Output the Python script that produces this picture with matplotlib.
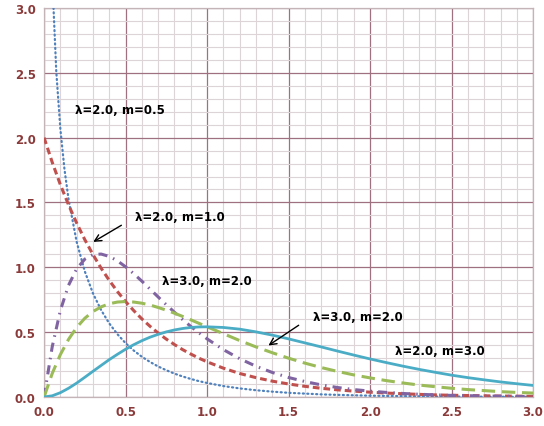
import matplotlib
matplotlib.use("Agg")
import matplotlib.pyplot as plt
from matplotlib.ticker import MultipleLocator

x = [0, 0.05, 0.1, 0.15, 0.2, 0.25, 0.3, 0.35, 0.4, 0.45, 0.5, 0.55, 0.6, 0.65,
     0.7, 0.75, 0.8, 0.85, 0.9, 0.95, 1.0, 1.1, 1.2, 1.3, 1.4, 1.5, 1.6, 1.7, 1.8,
     1.9, 2.0, 2.1, 2.2, 2.3, 2.4, 2.5, 2.6, 2.7, 2.8, 2.9, 3.0]

x_m05 = [0.05, 0.075, 0.1, 0.125, 0.15, 0.2, 0.25, 0.3, 0.35, 0.4, 0.45, 0.5, 0.55,
         0.6, 0.65, 0.7, 0.75, 0.8, 0.85, 0.9, 0.95, 1.0, 1.1, 1.2, 1.3, 1.4, 1.5,
         1.6, 1.7, 1.8, 1.9, 2.0, 2.1, 2.2, 2.3, 2.4, 2.5, 2.6, 2.7, 2.8, 2.9, 3.0]
y_l2_m05 = [3.229, 2.508, 2.066, 1.758, 1.526, 1.196, 0.968, 0.799, 0.670, 0.567,
            0.484, 0.415, 0.358, 0.310, 0.270, 0.235, 0.206, 0.180, 0.158, 0.139,
            0.122, 0.108, 0.084, 0.066, 0.052, 0.041, 0.032, 0.026, 0.020, 0.016,
            0.013, 0.010, 0.008, 0.007, 0.005, 0.004, 0.003, 0.003, 0.002, 0.002,
            0.001, 0.001]

y_l2_m1 = [2.000, 1.810, 1.637, 1.482, 1.341, 1.213, 1.098, 0.993, 0.899, 0.813,
           0.736, 0.666, 0.602, 0.545, 0.493, 0.446, 0.404, 0.365, 0.331, 0.299,
           0.271, 0.222, 0.181, 0.149, 0.122, 0.100, 0.082, 0.067, 0.055, 0.045,
           0.037, 0.030, 0.025, 0.020, 0.016, 0.013, 0.011, 0.009, 0.007, 0.006,
           0.005]

y_l3_m2 = [0.000, 0.387, 0.667, 0.861, 0.988, 1.063, 1.098, 1.102, 1.084, 1.050,
           1.004, 0.951, 0.893, 0.832, 0.771, 0.711, 0.653, 0.597, 0.544, 0.495,
           0.448, 0.365, 0.295, 0.237, 0.189, 0.150, 0.119, 0.093, 0.073, 0.057,
           0.045, 0.035, 0.027, 0.021, 0.016, 0.012, 0.010, 0.007, 0.006, 0.004,
           0.003]

y_l2_m2 = [0.000, 0.181, 0.327, 0.444, 0.536, 0.607, 0.659, 0.695, 0.719, 0.732,
           0.736, 0.732, 0.723, 0.709, 0.690, 0.669, 0.646, 0.621, 0.595, 0.568,
           0.541, 0.488, 0.435, 0.386, 0.341, 0.299, 0.261, 0.227, 0.197, 0.170,
           0.147, 0.126, 0.108, 0.092, 0.079, 0.067, 0.057, 0.049, 0.041, 0.035,
           0.030]

y_l2_m3 = [0.000, 0.009, 0.033, 0.067, 0.107, 0.152, 0.198, 0.243, 0.288, 0.329,
           0.368, 0.403, 0.434, 0.461, 0.483, 0.502, 0.517, 0.528, 0.536, 0.540,
           0.541, 0.536, 0.523, 0.502, 0.477, 0.448, 0.417, 0.386, 0.354, 0.323,
           0.293, 0.265, 0.238, 0.213, 0.190, 0.168, 0.149, 0.132, 0.116, 0.102,
           0.089]

labels = ["λ=2.0, m=0.5", "λ=2.0, m=1.0", "λ=3.0, m=2.0", "λ=3.0, m=2.0", "λ=2.0, m=3.0"]
tick_labels = ["0.0", "0.5", "1.0", "1.5", "2.0", "2.5", "3.0"]
tick_vals = [0, 0.5, 1.0, 1.5, 2.0, 2.5, 3.0]

fig = plt.figure(figsize=(5.44, 4.27), dpi=100)
ax = fig.add_axes([0.081, 0.068, 0.899, 0.911])

ax.plot(x_m05, y_l2_m05, color="#4F81BD", lw=1.6, linestyle=(0, (0.5, 1.5)),
        dash_capstyle="round", zorder=3)
ax.plot(x, y_l2_m1, color="#C0504D", lw=2.2, linestyle=(0, (2.2, 1.3)), zorder=3)
ax.plot(x, y_l3_m2, color="#8064A2", lw=2.2, linestyle=(0, (3.0, 2.0, 0.5, 2.0)), zorder=3)
ax.plot(x, y_l2_m2, color="#9BBB59", lw=2.2, linestyle=(0, (4.4, 2.2)), zorder=3)
ax.plot(x, y_l2_m3, color="#4BACC6", lw=2.0, linestyle="-", zorder=3)

ax.set_xlim(0, 3.0)
ax.set_ylim(0, 3.0)
ax.xaxis.set_minor_locator(MultipleLocator(0.1))
ax.yaxis.set_minor_locator(MultipleLocator(0.1))
ax.grid(which="major", color="#9E7080", lw=0.9, zorder=1)
ax.grid(which="minor", color="#DCD4D7", lw=0.8, zorder=0)
ax.set_axisbelow(True)

for s in ["top", "right", "left", "bottom"]:
    ax.spines[s].set_color("#C4B4B8")
    ax.spines[s].set_linewidth(0.9)

ax.tick_params(which="both", length=0, pad=6)
tick_color = "#8B3A3A"
ax.set_xticks(tick_vals)
ax.set_yticks(tick_vals)
ax.set_xticklabels(tick_labels, fontsize=8.5, fontweight="bold", color=tick_color)
ax.set_yticklabels(tick_labels, fontsize=8.5, fontweight="bold", color=tick_color)

tkw = dict(fontsize=8.5, fontweight="bold", color="black", va="center", ha="left", zorder=5)
ax.text(0.19, 2.215, labels[0], **tkw)
ax.text(0.556, 1.39, labels[1], **tkw)
ax.text(0.721, 0.90, labels[2], **tkw)
ax.text(1.649, 0.623, labels[3], **tkw)
ax.text(2.150, 0.362, labels[4], **tkw)

akw = dict(arrowstyle="->", color="black", lw=1.0, mutation_scale=12)
ax.annotate("", xy=(0.287, 1.185), xytext=(0.489, 1.335), arrowprops=akw, zorder=5)
ax.annotate("", xy=(1.362, 0.385), xytext=(1.576, 0.565), arrowprops=akw, zorder=5)

fig.savefig("out.png", dpi=100)
